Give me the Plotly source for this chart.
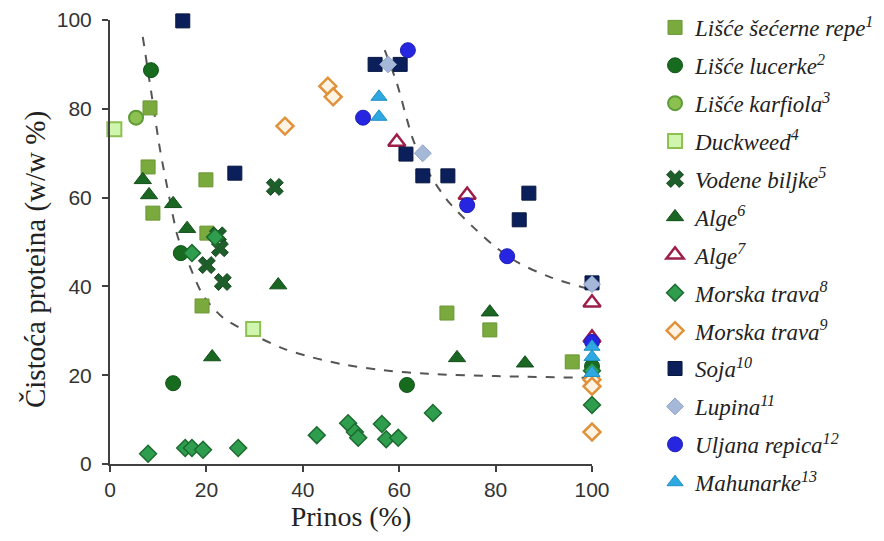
import plotly.graph_objects as go

# ---- data ----
repa_x = [8.3, 7.9, 19.9, 8.9, 20.1, 19.1, 69.9, 78.8, 95.9]
repa_y = [80.2, 66.9, 64.0, 56.5, 52.0, 35.6, 34.0, 30.2, 23.0]
lucerka_x = [8.5, 14.7, 13.1, 61.6, 100]
lucerka_y = [88.7, 47.5, 18.2, 17.8, 22.0]
karfiol_x = [5.4]
karfiol_y = [78.0]
duckweed_x = [0.9, 29.7]
duckweed_y = [75.4, 30.4]
vodene_x = [34.2, 22.4, 22.8, 20.1, 23.4]
vodene_y = [62.4, 51.5, 48.6, 44.8, 41.0]
alge6_x = [6.8, 8.1, 13.1, 16.0, 34.9, 21.2, 78.8, 72.0, 86.1]
alge6_y = [64.0, 60.6, 58.6, 53.0, 40.3, 24.1, 34.2, 23.9, 22.7]
alge7_x = [59.5, 74.1, 100, 100]
alge7_y = [72.5, 60.6, 36.3, 28.4]
morska8_x = [7.9, 15.6, 17.0, 19.3, 26.6, 17.0, 21.8, 42.9, 49.4, 50.8, 51.5, 56.4, 57.3, 59.8, 67.0, 100, 100]
morska8_y = [2.3, 3.6, 3.6, 3.2, 3.6, 47.5, 51.1, 6.5, 9.2, 7.2, 5.9, 9.0, 5.6, 5.9, 11.5, 13.3, 21.0]
morska9_x = [36.3, 45.2, 46.3, 100, 100, 100]
morska9_y = [76.1, 85.1, 82.7, 19.0, 17.5, 7.2]
soja_x = [15.1, 25.9, 55.0, 60.2, 61.4, 64.9, 70.1, 86.9, 84.9, 100]
soja_y = [99.8, 65.5, 90.0, 90.0, 69.8, 64.9, 64.9, 61.0, 55.0, 40.8]
lupina_x = [57.7, 64.9, 100]
lupina_y = [90.0, 70.0, 40.5]
uljana_x = [61.8, 52.5, 74.1, 82.4, 100]
uljana_y = [93.2, 78.0, 58.3, 46.8, 27.5]
mahunarke_x = [55.8, 55.8, 100, 100, 100]
mahunarke_y = [82.7, 78.2, 26.4, 24.1, 20.5]

# dashed trend curves
trend1_x = [6.8, 8.7, 10.4, 12.4, 14.1, 16.0, 19.3, 23.4, 29.0, 36.0, 42.0, 49.0, 56.0, 66.0, 80.0, 100]
trend1_y = [96.2, 82.7, 70.7, 59.5, 51.0, 46.0, 38.0, 33.0, 29.5, 26.0, 24.0, 22.3, 21.2, 20.3, 19.8, 19.4]
trend2_x = [57.0, 59.5, 62.9, 65.8, 69.9, 75.3, 80.3, 84.4, 91.3, 100]
trend2_y = [93.2, 85.8, 73.0, 66.2, 59.5, 53.4, 48.6, 45.5, 42.1, 39.2]

x_ticks = [0, 20, 40, 60, 80, 100]
y_ticks = [0, 20, 40, 60, 80, 100]

series = [
    ("Lišće šećerne repe", "1", repa_x, repa_y, "square", 14, "#7AAA3E", "#6A9634", 1),
    ("Lišće lucerke", "2", lucerka_x, lucerka_y, "circle", 15, "#176B1F", "#0F5216", 1),
    ("Lišće karfiola", "3", karfiol_x, karfiol_y, "circle", 14, "#8CC152", "#5E9A35", 2),
    ("Duckweed", "4", duckweed_x, duckweed_y, "square", 14, "#CFF5AE", "#8CC152", 2),
    ("Vodene biljke", "5", vodene_x, vodene_y, "x", 15, "#1E5E2A", "#174A21", 1),
    ("Alge", "6", alge6_x, alge6_y, "triangle-up", 15, "#1A6622", "#12501A", 1),
    ("Alge", "7", alge7_x, alge7_y, "triangle-up", 15, "#FFFFFF", "#9C1F48", 2.5),
    ("Morska trava", "8", morska8_x, morska8_y, "diamond", 13, "#2E9E4E", "#1D6B30", 1.5),
    ("Morska trava", "9", morska9_x, morska9_y, "diamond", 13, "#FFF4E4", "#E0913A", 2.5),
    ("Soja", "10", soja_x, soja_y, "square", 14, "#0B1F5B", "#08173F", 1),
    ("Lupina", "11", lupina_x, lupina_y, "diamond", 13, "#A5B8D8", "#8FA5CC", 1),
    ("Uljana repica", "12", uljana_x, uljana_y, "circle", 15, "#2626E0", "#1E1EB8", 1),
    ("Mahunarke", "13", mahunarke_x, mahunarke_y, "triangle-up", 14, "#2EA8E0", "#2090C4", 1),
]

fig = go.Figure()

for tx, ty in [(trend1_x, trend1_y), (trend2_x, trend2_y)]:
    fig.add_trace(go.Scatter(
        x=tx, y=ty, mode="lines", showlegend=False, hoverinfo="skip",
        line=dict(color="#555555", width=2, dash="dash", shape="spline", smoothing=0.8),
    ))

for i, (name, sup, xs, ys, sym, size, fill, edge, lw) in enumerate(series):
    fig.add_trace(go.Scatter(
        x=xs, y=ys, mode="markers",
        name=f"{name}<sup>{sup}</sup>",
        legendgroup=f"g{i}",
        marker=dict(symbol=sym, size=size, color=fill, line=dict(color=edge, width=lw)),
        cliponaxis=False,
    ))

serif = "Liberation Serif"
sans = "Liberation Sans"

fig.update_layout(
    width=884, height=541,
    margin=dict(l=110, r=292, t=20, b=77, autoexpand=False),
    paper_bgcolor="white", plot_bgcolor="white",
    showlegend=True,
    legend=dict(
        xref="container", yref="container",
        x=0.741, xanchor="left", y=0.989, yanchor="top",
        font=dict(family=serif, size=23, color="#222222", style="italic"),
        tracegroupgap=5, traceorder="grouped",
        bgcolor="rgba(0,0,0,0)", itemwidth=30, maxheight=541,
    ),
    xaxis=dict(
        range=[0, 100], tickvals=x_ticks, ticktext=[str(v) for v in x_ticks],
        showgrid=False, zeroline=False,
        showline=True, linecolor="#404040", linewidth=2,
        ticks="outside", ticklen=6, tickwidth=1.5, tickcolor="#404040",
        tickfont=dict(family=sans, size=21, color="#333333"),
        title=dict(text="Prinos (%)", font=dict(family=serif, size=28, color="#222222"), standoff=6),
    ),
    yaxis=dict(
        range=[0, 100], tickvals=y_ticks, ticktext=[str(v) for v in y_ticks],
        showgrid=False, zeroline=False,
        showline=True, linecolor="#404040", linewidth=2,
        ticks="outside", ticklen=6, tickwidth=1.5, tickcolor="#404040",
        ticklabelstandoff=6,
        tickfont=dict(family=sans, size=21, color="#333333"),
    ),
    annotations=[dict(
        text="Čistoća proteina (w/w %)", textangle=-90,
        xref="paper", yref="paper", x=-0.155, y=0.46,
        xanchor="center", yanchor="middle", showarrow=False,
        font=dict(family=serif, size=29, color="#222222"),
    )],
)

fig.write_html("out.html")
